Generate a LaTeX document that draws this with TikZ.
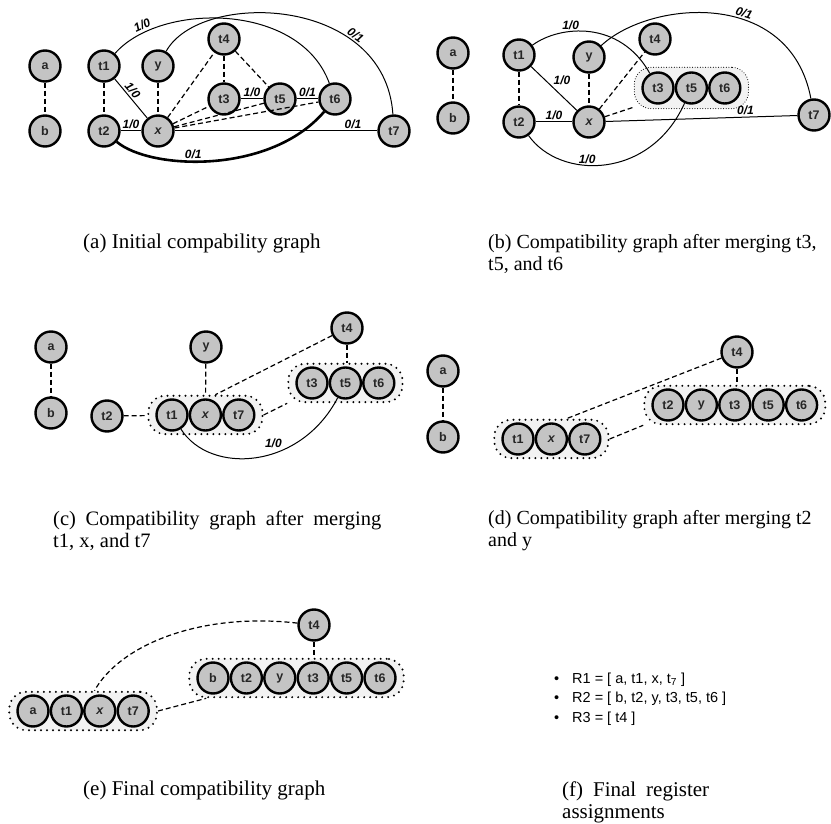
\documentclass[tikz,border=0pt]{standalone}
\usepackage{fontspec}
\setsansfont{Liberation Sans}
\newfontfamily\capfont{Liberation Serif}
\usepackage{tikz}
\usetikzlibrary{positioning, fit, backgrounds}
\definecolor{nodegray}{RGB}{196,196,196}

\begin{document}
\begin{tikzpicture}[
      x=1pt, y=1pt,
      var/.style = {
        circle, draw=black, line width=2.4pt, fill=nodegray,
        minimum size=31pt, inner sep=0pt, text=black!85,
        font=\sffamily\bfseries\fontsize{12.5}{14}\selectfont
      },
      merged/.style = {
        draw=black, fill=black!5, rounded corners=17pt,
        line width=2.2pt, line cap=round, dash pattern=on 0pt off 6pt,
        inner xsep=7pt, inner ysep=2.5pt
      },
      mergedfine/.style = {merged, line width=1.1pt, dash pattern=on 0pt off 2.6pt, inner ysep=4pt},
      compat/.style = {line width=1.2pt, dash pattern=on 5pt off 3pt},
      wedge/.style  = {line width=1pt},
      wlbl/.style   = {font=\sffamily\bfseries\itshape\fontsize{12}{14}\selectfont, inner sep=1.5pt},
      subcap/.style = {font=\capfont\fontsize{21}{22}\selectfont, anchor=base west, align=left, inner sep=0pt}
    ]
      \useasboundingbox (0,0) rectangle (831,-824);

      % ===================== (a) initial graph =====================
      \node[var] (a-a)  at (45,-66)   {a};
      \node[var] (a-b)  at (45,-131)  {b};
      \node[var] (a-t1) at (104,-66)  {t1};
      \node[var] (a-y)  at (158,-66)  {y};
      \node[var] (a-t4) at (224,-39)  {t4};
      \node[var] (a-t3) at (224,-99)  {t3};
      \node[var] (a-t5) at (280,-99)  {t5};
      \node[var] (a-t6) at (335,-99)  {t6};
      \node[var] (a-t2) at (104,-131) {t2};
      \node[var] (a-x)  at (158,-131) {\itshape x};
      \node[var] (a-t7) at (394,-131) {t7};

      \draw[compat] (a-a) -- (a-b);
      \draw[compat] (a-t1) -- (a-t2);
      \draw[compat] (a-y) -- (a-x);
      \draw[compat] (a-t4) -- (a-t3);
      \draw[compat] (a-t4) -- (a-t5);
      \draw[compat] (a-x) -- (a-t4);
      \draw[compat] (a-x) -- (a-t3);
      \draw[compat] (a-x) -- (a-t5);
      \draw[compat] (a-x) -- (a-t6);
      \draw[wedge] (a-t1) -- node[wlbl, sloped, above, pos=0.4] {1/0} (a-x);
      \draw[wedge] (a-t2) -- node[wlbl, above] {1/0} (a-x);
      \draw[wedge] (a-t3) -- node[wlbl, above] {1/0} (a-t5);
      \draw[wedge] (a-t5) -- node[wlbl, above] {0/1} (a-t6);
      \draw[wedge] (a-x) -- node[wlbl, above, pos=0.88] {0/1} (a-t7);
      \draw[wedge] (a-t1) .. controls (160,-2) and (300,-2) .. node[wlbl, sloped, above=1pt, pos=0.17] {1/0} (a-t6);
      \draw[wedge] (a-y) .. controls (200,10) and (385,5) .. node[wlbl, sloped, above, pos=0.72] {0/1} (a-t7);
      \draw[wedge, line width=2.6pt] (a-t2) .. controls (150,-170) and (270,-175) .. node[wlbl, above, pos=0.42] {0/1} (a-t6);

      \node[subcap] (a-cap) at (83,-249) {(a) Initial compability graph};

      % ===================== (b) t3, t5, t6 merged =====================
      \node[var] (b-a)  at (453,-53)  {a};
      \node[var] (b-b)  at (453,-118) {b};
      \node[var] (b-t1) at (519,-55)  {t1};
      \node[var] (b-t2) at (519,-122) {t2};
      \node[var] (b-y)  at (589,-57)  {y};
      \node[var] (b-x)  at (589,-122) {\itshape x};
      \node[var] (b-t4) at (655,-39)  {t4};
      \node[var] (b-t3) at (658,-88)  {t3};
      \node[var, right=0pt of b-t3] (b-t5) {t5};
      \node[var, right=0pt of b-t5] (b-t6) {t6};
      \node[var] (b-t7) at (814,-115) {t7};
      \begin{scope}[on background layer]
        \node[mergedfine, fit=(b-t3)(b-t6)] (b-g) {};
      \end{scope}

      \draw[compat] (b-a) -- (b-b);
      \draw[compat] (b-t1) -- (b-t2);
      \draw[compat] (b-y) -- (b-x);
      \draw[compat] (b-x) -- (b-t4);
      \draw[compat] (b-x) -- (b-g);
      \draw[wedge] (b-t1) -- node[wlbl, above right, pos=0.45] {1/0} (b-x);
      \draw[wedge] (b-t2) -- node[wlbl, above] {1/0} (b-x);
      \draw[wedge] (b-x) -- node[wlbl, above, pos=0.73] {0/1} (b-t7);
      \draw[wedge] (b-t1) .. controls (560,-25) and (620,-20) .. node[wlbl, above, pos=0.35] {1/0} (b-t3);
      \draw[wedge] (b-y) .. controls (650,0) and (790,12) .. node[wlbl, sloped, above, pos=0.6] {0/1} (b-t7);
      \draw[wedge] (b-t2) .. controls (560,-180) and (650,-180) .. node[wlbl, above, pos=0.4] {1/0} (b-t5);

      \node[subcap, font=\capfont\fontsize{20}{22}\selectfont] (b-cap) at (488,-270) {(b) Compatibility graph after merging t3,\\t5, and t6};

      % ===================== (c) t1, x, t7 merged =====================
      \node[var] (c-a)  at (51,-347)  {a};
      \node[var] (c-b)  at (51,-413)  {b};
      \node[var] (c-t2) at (107,-416) {t2};
      \node[var] (c-y)  at (206,-347) {y};
      \node[var] (c-t4) at (347,-328) {t4};
      \node[var] (c-t3) at (312,-383) {t3};
      \node[var, right=0pt of c-t3] (c-t5) {t5};
      \node[var, right=0pt of c-t5] (c-t6) {t6};
      \node[var] (c-t1) at (172,-415) {t1};
      \node[var, right=0pt of c-t1] (c-x)  {\itshape x};
      \node[var, right=0pt of c-x]  (c-t7) {t7};
      \begin{scope}[on background layer]
        \node[merged, fit=(c-t1)(c-t7)] (c-g1) {};
        \node[merged, fit=(c-t3)(c-t6)] (c-g2) {};
      \end{scope}

      \draw[compat] (c-a) -- (c-b);
      \draw[compat] (c-t2) -- (c-g1);
      \draw[compat] (c-y) -- (c-g1);
      \draw[compat] (c-t4) -- ([xshift=10pt]c-g1.north);
      \draw[compat] (c-t4) -- (c-t4 |- c-g2.north);
      \draw[compat] (c-g1.east) -- (c-g2.south west);
      \draw[wedge] (c-t1) .. controls (210,-475) and (300,-470) .. node[wlbl, above left, pos=0.65] {1/0} (c-t5);

      \node[subcap, font=\capfont\fontsize{20.5}{22}\selectfont] (c-cap) at (53,-547) {\makebox[328pt][s]{(c) Compatibility graph after merging}\\t1, x, and t7};

      % ===================== (d) t2, y merged =====================
      \node[var] (d-a)  at (443,-371) {a};
      \node[var] (d-b)  at (443,-437) {b};
      \node[var] (d-t4) at (737,-352) {t4};
      \node[var] (d-t2) at (668,-405) {t2};
      \node[var, right=0pt of d-t2] (d-y)  {y};
      \node[var, right=0pt of d-y]  (d-t3) {t3};
      \node[var, right=0pt of d-t3] (d-t5) {t5};
      \node[var, right=0pt of d-t5] (d-t6) {t6};
      \node[var] (d-t1) at (518,-439) {t1};
      \node[var, right=0pt of d-t1] (d-x)  {\itshape x};
      \node[var, right=0pt of d-x]  (d-t7) {t7};
      \begin{scope}[on background layer]
        \node[merged, fit=(d-t1)(d-t7)] (d-g1) {};
        \node[merged, fit=(d-t2)(d-t6)] (d-g2) {};
      \end{scope}

      \draw[compat] (d-a) -- (d-b);
      \draw[compat] (d-t4) -- ([xshift=15pt]d-g1.north);
      \draw[compat] (d-t4) -- (d-t4 |- d-g2.north);
      \draw[compat] (d-g1.east) -- (d-g2.south west);

      \node[subcap, font=\capfont\fontsize{20}{22}\selectfont] (d-cap) at (488,-546) {(d) Compatibility graph after merging t2\\and y};

      % ===================== (e) final graph =====================
      \node[var] (e-t4) at (314,-625) {t4};
      \node[var] (e-b)  at (213,-678) {b};
      \node[var, right=0pt of e-b]  (e-t2) {t2};
      \node[var, right=0pt of e-t2] (e-y)  {y};
      \node[var, right=0pt of e-y]  (e-t3) {t3};
      \node[var, right=0pt of e-t3] (e-t5) {t5};
      \node[var, right=0pt of e-t5] (e-t6) {t6};
      \node[var] (e-a)  at (33,-711) {a};
      \node[var, right=0pt of e-a]  (e-t1) {t1};
      \node[var, right=0pt of e-t1] (e-x)  {\itshape x};
      \node[var, right=0pt of e-x]  (e-t7) {t7};
      \begin{scope}[on background layer]
        \node[merged, fit=(e-a)(e-t7)] (e-g1) {};
        \node[merged, fit=(e-b)(e-t6)] (e-g2) {};
      \end{scope}

      \draw[compat] (e-t4) .. controls (200,-612) and (120,-645) .. (e-g1);
      \draw[compat] (e-t4) -- (e-t4 |- e-g2.north);
      \draw[compat] (e-g1.east) -- ([xshift=18pt]e-g2.south west);

      \node[subcap] (e-cap) at (83,-795) {(e) Final compatibility graph};

      % ===================== (f) registers =====================
      \node[anchor=base west, align=left, inner sep=0pt,
            font=\sffamily\fontsize{14.5}{19.5}\selectfont] (f-list) at (554,-722)
        {\makebox[18pt][l]{\textbullet}R1 = [ a, t1, x, t\textsubscript{7} ]\\
         \makebox[18pt][l]{\textbullet}R2 = [ b, t2, y, t3, t5, t6 ]\\
         \makebox[18pt][l]{\textbullet}R3 = [ t4 ]};

      \node[subcap] (f-cap) at (562,-818) {\makebox[147pt][s]{(f) Final register}\\assignments};

    \end{tikzpicture}
\end{document}
